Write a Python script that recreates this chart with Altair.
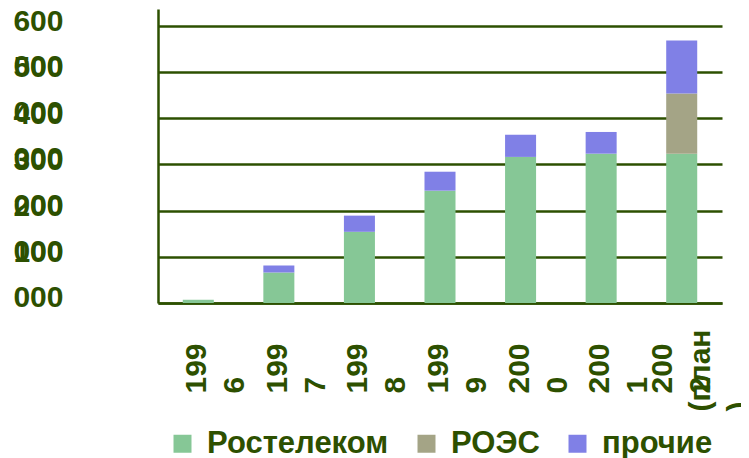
import altair as alt
import pandas as pd

# ---- data ----
years = ["1996", "1997", "1998", "1999", "2000", "2001", "2002 (план)"]
rostelecom = [7000, 66000, 154000, 243000, 316000, 323000, 323000]
roes = [0, 0, 0, 0, 0, 0, 130000]
prochie = [0, 15000, 35000, 41000, 48000, 47000, 115000]
series = ["Ростелеком", "РОЭС", "прочие"]
colors = ["#86C796", "#A4A486", "#8080E6"]
y_ticks = [0, 100000, 200000, 300000, 400000, 500000, 600000]
x_label_lines = [["199", "6"], ["199", "7"], ["199", "8"], ["199", "9"],
                 ["200", "0"], ["200", "1"], ["200", "2"]]
x_label_extra = [[], [], [], [], [], [], ["(план", ")"]]

INK = "#2d5000"
FONT = "Liberation Sans"

rows = []
for i, yr in enumerate(years):
    for k, (name, vals) in enumerate(zip(series, [rostelecom, roes, prochie])):
        rows.append({"year": yr, "series": name, "value": vals[i], "ord": k})
df = pd.DataFrame(rows)


def arr(lines):
    return "[" + ",".join("'" + s + "'" for s in lines) + "]"


def label_expr(lines_list):
    expr = "''"
    for yr, lines in reversed(list(zip(years, lines_list))):
        if lines:
            expr = f"datum.value == '{yr}' ? {arr(lines)} : ({expr})"
    return expr


common_x_axis = dict(
    orient="bottom", labelAngle=270, labelAlign="left", labelBaseline="middle",
    labelFont=FONT, labelFontSize=30, labelFontWeight="bold", labelColor=INK,
    labelLineHeight=38, labelOverlap=False, ticks=False, labelLimit=0,
    title=None, grid=False,
)
last = years[-1]

x_scale = alt.Scale(paddingInner=0.615, paddingOuter=0.3075)

bars = alt.Chart(df).mark_bar().encode(
    x=alt.X("year:N", sort=years, scale=x_scale,
            axis=alt.Axis(labelExpr=label_expr(x_label_lines), labelPadding=90,
                          labelOffset=alt.condition(f"datum.value == '{last}'",
                                                    alt.value(-19), alt.value(-1)),
                          domainColor=INK, domainWidth=2.5, **common_x_axis)),
    y=alt.Y("value:Q", stack="zero",
            scale=alt.Scale(domain=[0, 636000], nice=False),
            axis=alt.Axis(values=y_ticks, title=None, ticks=False,
                          labelExpr="datum.value == 0 ? '' : [format(datum.value/1000, 'd'), '000']",
                          labelFont=FONT, labelFontSize=30, labelFontWeight="bold",
                          labelColor=INK, labelLineHeight=44.8, labelBaseline="middle",
                          labelAlign="right", labelPadding=95, labelOffset=-4,
                          labelOverlap=False, labelFlush=False,
                          domainColor=INK, domainWidth=2.5,
                          grid=True, gridColor=INK, gridWidth=2.5, gridOpacity=1)),
    color=alt.Color("series:N", sort=series,
                    scale=alt.Scale(domain=series, range=colors),
                    legend=alt.Legend(title=None, orient="none", direction="horizontal",
                                      legendX=9, legendY=419, symbolType="square",
                                      symbolSize=324, symbolStrokeWidth=0, symbolOpacity=1,
                                      labelFont=FONT, labelFontSize=31, labelFontWeight="bold",
                                      labelColor=INK, labelOffset=9, columnPadding=22,
                                      labelLimit=0, padding=0)),
    order=alt.Order("ord:Q", sort="ascending"),
)

ghost = alt.Chart(df).mark_bar(opacity=0).encode(
    x=alt.X("year:N", sort=years,
            axis=alt.Axis(labelExpr=label_expr(x_label_extra), labelPadding=108,
                          labelOffset=19, domain=False, **common_x_axis)),
    y=alt.Y("value:Q", stack="zero", axis=None),
)

chart = alt.layer(bars, ghost).resolve_axis(
    x="independent", y="independent"
).properties(
    width=564, height=294,
    autosize=alt.AutoSizeParams(type="none"),
    padding={"left": 150, "top": 1, "right": 19, "bottom": 155},
).configure_view(stroke="transparent")

chart.save("out.html", embed_options={"renderer": "svg", "actions": False})
